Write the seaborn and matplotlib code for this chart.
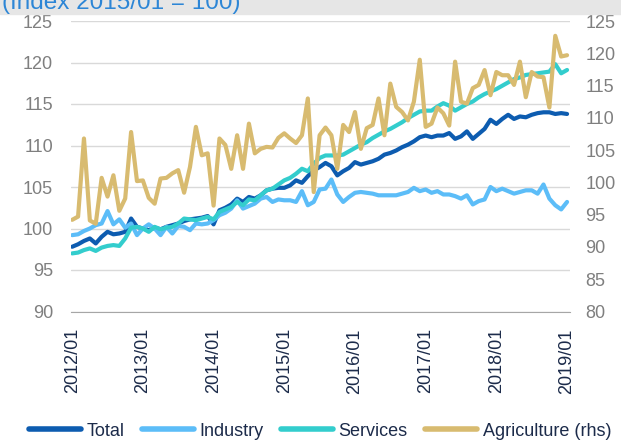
import matplotlib
matplotlib.use("Agg")
import numpy as np
import pandas as pd
import seaborn as sns
from matplotlib import pyplot as plt
from matplotlib.lines import Line2D
from matplotlib.patches import Rectangle

# monthly, 2012/01 .. 2019/01
year_labels = ['2012/01', '2013/01', '2014/01', '2015/01',
               '2016/01', '2017/01', '2018/01', '2019/01']

total = [97.8, 98.1, 98.5, 98.8, 98.2, 99.0, 99.6, 99.3, 99.4, 99.6, 101.2, 100.2,
         100.0, 99.8, 100.1, 99.9, 100.2, 100.4, 100.6, 100.9, 101.1, 101.2, 101.3, 101.5,
         100.5, 102.2, 102.5, 102.9, 103.6, 103.2, 103.8, 103.6, 104.0, 104.6, 104.8, 104.9,
         104.9, 105.2, 105.8, 105.5, 106.3, 107.0, 107.4, 107.9, 107.5, 106.4, 106.9, 107.3,
         108.0, 107.7, 107.9, 108.1, 108.4, 108.9, 109.1, 109.4, 109.8, 110.1, 110.5, 111.0,
         111.2, 111.0, 111.2, 111.2, 111.5, 110.8, 111.1, 111.7, 110.8, 111.4, 112.0, 113.1,
         112.6, 113.2, 113.7, 113.2, 113.5, 113.4, 113.7, 113.9, 114.0, 114.0, 113.8, 113.9,
         113.8]

industry = [99.2, 99.3, 99.7, 100.0, 100.4, 100.6, 102.1, 100.5, 101.1, 100.1, 100.6, 99.2,
            100.0, 100.5, 100.0, 99.2, 100.2, 99.4, 100.3, 100.2, 99.8, 100.6, 100.5, 100.6,
            101.0, 101.6, 101.9, 102.4, 103.4, 102.4, 102.7, 103.0, 103.6, 103.8, 103.2, 103.5,
            103.4, 103.4, 103.2, 104.5, 102.8, 103.2, 104.7, 104.8, 105.9, 104.1, 103.2, 103.8,
            104.3, 104.4, 104.3, 104.2, 104.0, 104.0, 104.0, 104.0, 104.2, 104.4, 104.9, 104.5,
            104.7, 104.3, 104.5, 104.1, 104.1, 103.9, 103.6, 104.0, 102.9, 103.3, 103.5, 105.0,
            104.5, 104.8, 104.5, 104.2, 104.4, 104.6, 104.6, 104.2, 105.3, 103.6, 102.8, 102.3,
            103.2]

services = [97.0, 97.1, 97.4, 97.6, 97.3, 97.7, 97.9, 98.0, 97.9, 98.8, 100.1, 100.2,
            100.0, 99.6, 100.2, 99.9, 100.1, 100.2, 100.6, 101.2, 101.1, 101.0, 101.2, 101.4,
            101.1, 102.0, 102.3, 102.6, 103.2, 102.8, 103.5, 103.4, 104.0, 104.6, 104.8, 105.3,
            105.8, 106.1, 106.6, 107.2, 106.9, 107.8, 108.5, 108.8, 108.8, 108.8, 108.9, 109.3,
            109.7, 110.1, 110.4, 110.9, 111.3, 111.7, 112.0, 112.4, 112.8, 113.3, 113.7, 114.1,
            114.2, 114.2, 114.7, 115.1, 114.8, 114.2, 114.6, 115.0, 115.3, 115.8, 116.2, 116.5,
            116.8, 117.2, 117.6, 118.0, 118.2, 118.5, 118.6, 118.7, 118.8, 118.9, 119.8, 118.7,
            119.1]

agriculture = [94.2, 94.7, 106.8, 94.1, 93.6, 100.7, 97.8, 101.1, 95.6, 97.5, 107.8, 100.2,
               100.3, 97.6, 96.7, 100.6, 100.7, 101.4, 101.9, 98.4, 102.4, 108.6, 104.2, 104.5,
               96.4, 106.8, 105.8, 102.1, 107.3, 102.1, 109.1, 104.5, 105.2, 105.5, 105.4, 106.9,
               107.6, 106.8, 106.1, 107.3, 113.0, 98.5, 107.3, 108.5, 107.3, 102.1, 108.9, 107.8,
               110.9, 105.2, 108.4, 108.9, 113.0, 107.3, 115.3, 111.7, 110.9, 109.6, 112.5, 119.0,
               108.6, 109.1, 111.6, 110.7, 108.8, 118.7, 112.5, 112.2, 114.6, 115.1, 117.4, 113.5,
               117.1, 116.6, 116.6, 115.1, 118.7, 113.2, 117.1, 116.4, 116.3, 111.6, 122.7, 119.5,
               119.7]

palette = {'Total': '#0d5cb0', 'Industry': '#5cbdf8', 'Services': '#33cdcd'}
agri_color = '#d8bb70'
navy = '#1c2b4a'
grey = '#7f7f7f'

sns.set_style('white')
plt.rcParams['font.family'] = ['Liberation Sans', 'DejaVu Sans']

df = pd.DataFrame({'month': np.arange(len(total)), 'Total': total,
                   'Industry': industry, 'Services': services})
long_df = df.melt('month', var_name='series', value_name='value')

fig = plt.figure(figsize=(6.21, 4.43), dpi=100)
ax = fig.add_axes([71 / 621, 1 - 311.5 / 443, 499 / 621, 290.5 / 443])

sns.lineplot(data=long_df, x='month', y='value', hue='series', palette=palette,
             linewidth=3, ax=ax, legend=False)

ax2 = ax.twinx()
sns.lineplot(x=df['month'], y=agriculture, color=agri_color, linewidth=3, ax=ax2)

ax.set_xlim(-0.2, 84.5)
ax.set_ylim(90, 125)
ax.set_yticks(range(90, 126, 5))
ax2.set_ylim(80, 125)
ax2.set_yticks(range(80, 126, 5))

ax.set_xticks(range(0, 85, 12))
ax.set_xticklabels(year_labels, rotation=90, color=navy, fontsize=13)
ax.set_xticks(range(0, 85), minor=True)
ax.tick_params(axis='x', which='both', length=3, width=0.8, color='#a6a6a6', pad=9)
ax.set_xlabel('')
ax.set_ylabel('')
ax2.set_ylabel('')

ax.tick_params(axis='y', length=0, pad=13, labelcolor=grey, labelsize=13)
ax2.tick_params(axis='y', length=0, pad=11, labelcolor=grey, labelsize=13)

ax.grid(axis='y', color='#d9d9d9', linewidth=1)
ax.grid(axis='x', visible=False)
for s in ['top', 'left', 'right']:
    ax.spines[s].set_visible(False)
    ax2.spines[s].set_visible(False)
ax.spines['bottom'].set_color('#a6a6a6')
ax2.spines['bottom'].set_visible(False)

handles = [Line2D([], [], color=palette['Total'], lw=4, solid_capstyle='round'),
           Line2D([], [], color=palette['Industry'], lw=4, solid_capstyle='round'),
           Line2D([], [], color=palette['Services'], lw=4, solid_capstyle='round'),
           Line2D([], [], color=agri_color, lw=4, solid_capstyle='round')]
leg = fig.legend(handles, ['Total', 'Industry', 'Services', 'Agriculture (rhs)'],
                 loc='center', bbox_to_anchor=(320 / 621, 1 - 431 / 443), ncol=4,
                 frameon=False, fontsize=13, handlelength=2.9, handletextpad=0.3,
                 columnspacing=0.95)
for t in leg.get_texts():
    t.set_color(navy)

# cut-off title band at the top
fig.patches.append(Rectangle((0, 1 - 14 / 443), 1, 14 / 443, transform=fig.transFigure,
                             color='#e6e6e6', zorder=0))
fig.text(2 / 621, 1 - 9 / 443, '(Index 2015/01 = 100)', fontsize=17.5,
         color='#2d86d6', va='baseline')

fig.savefig('out.png', dpi=100)
